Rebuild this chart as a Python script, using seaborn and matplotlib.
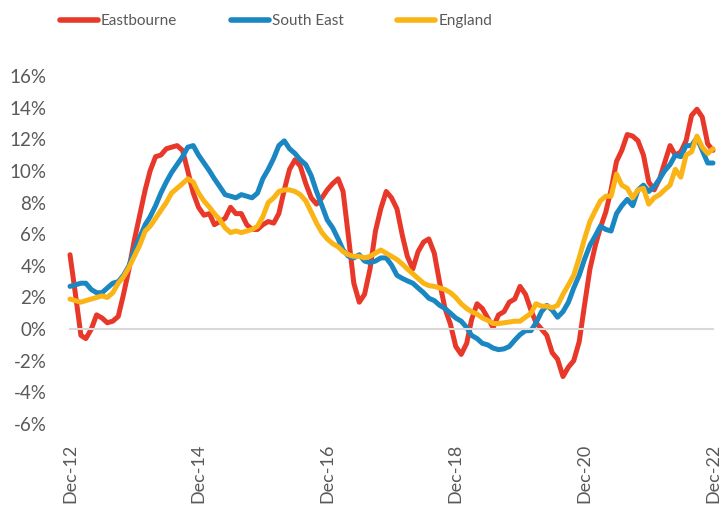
import numpy as np
import pandas as pd
import matplotlib.pyplot as plt
from matplotlib.lines import Line2D
import seaborn as sns

# monthly annual % change, Dec-12 .. Dec-22
eastbourne = [
    4.7, 2.2, -0.4, -0.6, 0.0, 0.9, 0.7, 0.4, 0.5, 0.8, 2.2, 3.8,
    5.6, 7.2, 8.8, 10.0, 10.9, 11.0, 11.4, 11.5, 11.6, 11.3, 10.0, 8.6,
    7.7, 7.2, 7.3, 6.6, 6.8, 7.0, 7.7, 7.3, 7.3, 6.6, 6.3, 6.3,
    6.6, 6.8, 6.7, 7.3, 8.8, 10.1, 10.7, 10.3, 9.2, 8.3, 7.9, 8.3,
    8.8, 9.2, 9.5, 8.7, 5.8, 2.9, 1.7, 2.2, 3.8, 6.2, 7.6, 8.7,
    8.3, 7.6, 5.9, 4.6, 3.8, 4.9, 5.5, 5.7, 4.8, 2.9, 1.3, 0.3,
    -1.1, -1.6, -0.9, 0.6, 1.6, 1.3, 0.7, 0.1, 0.9, 1.1, 1.7, 1.9,
    2.7, 2.2, 1.2, 0.4, 0.0, -0.4, -1.5, -1.9, -3.0, -2.4, -2.0, -0.8,
    1.5, 3.8, 5.3, 6.4, 7.4, 8.8, 10.6, 11.3, 12.3, 12.2, 11.9, 11.0,
    9.3, 8.8, 9.5, 10.5, 11.6, 11.0, 11.2, 11.9, 13.5, 13.9, 13.4, 11.7,
    11.3,
]
south_east = [
    2.7, 2.8, 2.9, 2.9, 2.5, 2.3, 2.3, 2.6, 2.9, 3.0, 3.4, 4.0,
    5.0, 5.8, 6.6, 7.1, 7.8, 8.6, 9.3, 9.9, 10.4, 10.9, 11.5, 11.6,
    11.0, 10.5, 10.0, 9.5, 9.0, 8.5, 8.4, 8.3, 8.5, 8.4, 8.3, 8.6,
    9.5, 10.1, 10.8, 11.6, 11.9, 11.4, 11.1, 10.7, 10.4, 9.7, 8.7, 7.8,
    6.9, 6.4, 5.7, 5.0, 4.6, 4.5, 4.7, 4.3, 4.2, 4.3, 4.5, 4.5,
    4.05, 3.4, 3.2, 3.05, 2.9, 2.6, 2.3, 1.95, 1.8, 1.5, 1.3, 1.0,
    0.7, 0.5, 0.1, -0.4, -0.6, -0.9, -1.0, -1.2, -1.3, -1.25, -1.1, -0.7,
    -0.35, -0.1, -0.1, 0.4, 1.1, 1.5, 1.2, 0.75, 1.1, 1.7, 2.6, 3.4,
    4.4, 5.3, 5.9, 6.5, 6.3, 6.2, 7.3, 7.8, 8.2, 7.8, 8.8, 9.1,
    8.7, 9.0, 9.5, 10.0, 10.4, 11.0, 10.9, 11.6, 11.6, 12.1, 11.3, 10.5,
    10.5,
]
england = [
    1.9, 1.8, 1.7, 1.8, 1.9, 2.0, 2.1, 2.0, 2.3, 2.9, 3.3, 3.9,
    4.6, 5.3, 6.2, 6.5, 7.0, 7.5, 8.0, 8.6, 8.9, 9.2, 9.5, 9.3,
    8.6, 8.1, 7.7, 7.3, 6.9, 6.4, 6.1, 6.2, 6.1, 6.2, 6.3, 6.5,
    7.1, 8.0, 8.3, 8.7, 8.8, 8.8, 8.7, 8.5, 8.1, 7.4, 6.7, 6.1,
    5.7, 5.4, 5.2, 4.9, 4.7, 4.6, 4.6, 4.5, 4.6, 4.8, 5.0, 4.8,
    4.6, 4.4, 4.1, 3.8, 3.5, 3.2, 2.9, 2.75, 2.7, 2.6, 2.5, 2.3,
    2.0, 1.6, 1.3, 1.1, 0.95, 0.7, 0.55, 0.35, 0.35, 0.4, 0.45, 0.5,
    0.5, 0.75, 1.0, 1.6, 1.45, 1.45, 1.35, 1.5, 2.2, 2.8, 3.4, 4.5,
    5.7, 6.8, 7.5, 8.1, 8.4, 8.4, 9.8, 9.1, 8.9, 8.3, 8.8, 8.9,
    7.9, 8.3, 8.5, 8.8, 9.1, 10.1, 9.6, 11.0, 11.2, 12.2, 11.5, 11.1,
    11.4,
]
series_names = ['Eastbourne', 'South East', 'England']
colours = ['#E8382A', '#1A87C2', '#FBB415']
tick_labels = ['Dec-12', 'Dec-14', 'Dec-16', 'Dec-18', 'Dec-20', 'Dec-22']
y_ticks = list(range(-6, 17, 2))

months = pd.date_range('2012-12-01', periods=len(eastbourne), freq='MS')
df = pd.DataFrame({'month': months, 'Eastbourne': eastbourne,
                   'South East': south_east, 'England': england})
long_df = df.melt(id_vars='month', var_name='area', value_name='change')

sns.set_style('white')
plt.rcParams['font.family'] = ['Lato', 'DejaVu Sans']
grey = '#595959'

fig = plt.figure(figsize=(7.2, 5.08), dpi=100)
ax = fig.add_axes([70 / 720, 1 - 424 / 508, 643 / 720, 348 / 508])

sns.lineplot(data=long_df, x='month', y='change', hue='area',
             hue_order=series_names, palette=colours, linewidth=3.6,
             legend=False, ax=ax, solid_capstyle='round',
             solid_joinstyle='round', clip_on=False)

ax.set_xlim(months[0], months[-1])
ax.set_ylim(-6, 16)
ax.set_yticks(y_ticks)
ax.set_yticklabels([f'{t}%' for t in y_ticks])
ax.set_xlabel('')
ax.set_ylabel('')

for side in ['top', 'right', 'left']:
    ax.spines[side].set_visible(False)
ax.spines['bottom'].set_position(('data', 0))
ax.spines['bottom'].set_color('#D9D9D9')
ax.spines['bottom'].set_linewidth(1.5)

tick_dates = months[::24]
ax.set_xticks(tick_dates)
ax.tick_params(axis='x', direction='out', length=5, width=1.5,
               color='#D9D9D9', labelbottom=False)
ax.tick_params(axis='y', length=0, pad=17, labelsize=13.5, labelcolor=grey)

# category labels sit at the bottom of the plot, below the negative range
sec = ax.secondary_xaxis('bottom')
sec.set_xticks(tick_dates)
sec.set_xticklabels(tick_labels, rotation=90)
sec.spines['bottom'].set_visible(False)
sec.tick_params(axis='x', length=0, pad=14, labelsize=13, labelcolor=grey)

handles = [Line2D([], [], color=c, linewidth=4, solid_capstyle='round')
           for c in colours]
fig.legend(handles, series_names, loc='center left',
           bbox_to_anchor=(46 / 720, 1 - 21 / 508), ncol=3, frameon=False,
           handlelength=2.5, handletextpad=0.2, columnspacing=3.5,
           fontsize=11, labelcolor=grey)

fig.savefig('out.png', dpi=100)
